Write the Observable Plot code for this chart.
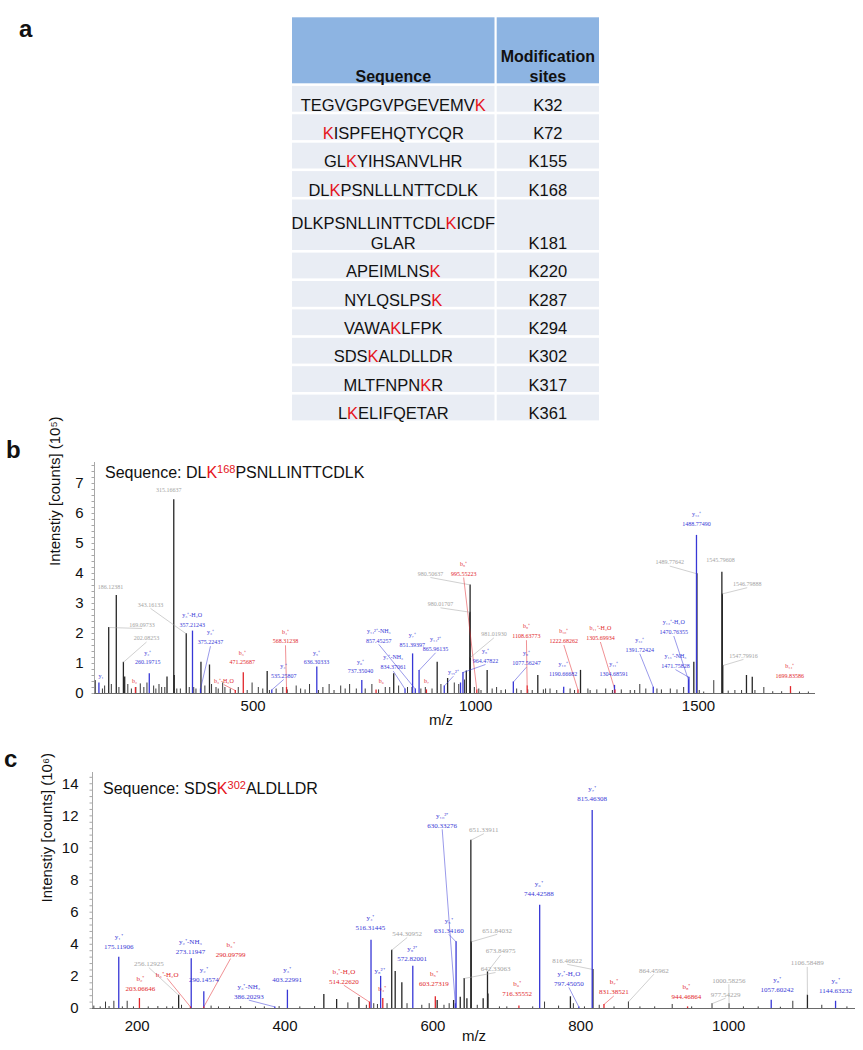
<!DOCTYPE html>
<html><head><meta charset="utf-8">
<script src="https://cdn.jsdelivr.net/npm/d3@7"></script>
<script src="https://cdn.jsdelivr.net/npm/@observablehq/plot@0.6"></script>
<style>
body{margin:0;background:#fff;font-family:"Liberation Sans",Arial,sans-serif;}
#root{position:relative;width:863px;height:1050px;overflow:hidden;background:#fff;}
.seq{position:absolute;font-size:16px;line-height:16px;white-space:nowrap;color:#111;z-index:5;}
.plotbox{position:absolute;left:0;}
</style></head><body><div id="root"></div>
<script>
// ---------- Panel a: table ----------
const tableHeader = ["Sequence", "Modification\nsites"];
const seqs = ["TEGVGPGVPGEVEMVK","KISPFEHQTYCQR","GLKYIHSANVLHR","DLKPSNLLLNTTCDLK","DLKPSNLLINTTCDLKICDF\nGLAR","APEIMLNSK","NYLQSLPSK","VAWAKLFPK","SDSKALDLLDR","MLTFNPNKR","LKELIFQETAR"];
const modIdx = [15,0,2,2,15,8,8,4,3,7,1];
const sites = ["K32","K72","K155","K168","K181","K220","K287","K294","K302","K317","K361"];

// ---------- Panel b: DLK(168)PSNLLINTTCDLK ----------
const seqB = "DLKPSNLLINTTCDLK", seqBMod = 2, seqBSite = "168";
const bTicksX = [500,1000,1500];
const bTicksY = [0,1,2,3,4,5,6,7];
const bOther = [[139,0.43],[155,0.15],[160,0.25],[169.10,2.2],[175,0.3],[186.12,3.27],[192,0.2],[202.08,1.04],[205,0.55],[212,0.3],[220,0.15],[230,0.2],[240,0.32],[248,0.2],[255,0.35],[270,0.25],[275,0.15],[282,0.3],[288,0.2],[295,0.2],[300,0.55],[315.17,6.46],[316.17,0.6],[322,0.15],[330,0.15],[343.16,1.99],[350,0.2],[360,0.2],[365,0.15],[376.22,1.04],[385,0.25],[395.4,0.95],[400,0.3],[410,0.2],[415,0.15],[425,0.35],[430,0.2],[442,0.15],[460,0.2],[480,0.1],[491,0.35],[505,0.2],[515,0.15],[524.9,0.73],[530,0.1],[545,0.15],[560,0.2],[570,0.12],[590,0.25],[600,0.15],[610,0.12],[620,0.3],[640,0.1],[650,0.2],[664,0.3],[675,0.1],[690,0.25],[700,0.15],[710,0.3],[725,0.15],[745,0.15],[760,0.3],[775,0.12],[790,0.2],[800,0.2],[809,0.66],[820,0.25],[840,0.2],[850,0.2],[870,0.15],[880,0.2],[895,0.15],[906.6,1.04],[915,0.3],[930,0.5],[945,0.35],[955,0.3],[968,0.45],[972,0.75],[980.02,2.71],[980.51,3.62],[981.02,1.2],[990,0.2],[1000,0.15],[1005,0.1],[1018.8,0.77],[1030,0.15],[1040,0.2],[1050,0.1],[1060,0.12],[1085,0.15],[1095,0.1],[1110,0.12],[1120,0.1],[1132.5,0.6],[1145,0.12],[1150,0.15],[1160,0.15],[1175,0.1],[1190,0.1],[1205,0.15],[1215,0.1],[1228.4,0.77],[1245,0.15],[1250,0.1],[1265,0.12],[1285,0.15],[1300,0.1],[1320,0.12],[1340,0.1],[1350,0.1],[1361.5,0.3],[1375,0.15],[1400,0.15],[1410,0.12],[1430,0.15],[1445,0.12],[1460,0.2],[1482.8,1.04],[1489.78,3.99],[1495,0.1],[1505,0.05],[1527.6,0.43],[1545.80,4.04],[1546.80,3.32],[1547.80,0.93],[1560,0.08],[1575,0.1],[1590,0.1],[1601,0.6],[1614,0.54],[1620,0.1],[1640,0.2],[1660,0.06],[1680,0.06],[1700,0.05],[1720,0.05],[1740,0.05]];
const bYions = [[147.11,0.35],[260.20,0.66],[357.21,2.08],[375.22,0.15],[535.26,0.12],[636.30,0.88],[737.35,0.43],[834.37,0.15],[851.39,1.32],[857.45,0.15],[865.96,0.77],[922.5,0.25],[959,0.35],[964.48,0.7],[1077.56,0.38],[1190.65,0.21],[1304.69,0.27],[1391.72,0.21],[1470.76,0.45],[1471.76,0.54],[1488.77,5.27]];
const bBions = [[229.12,0.2],[453.24,0.1],[471.26,0.69],[568.31,0.2],[769.38,0.12],[882.47,0.12],[995.55,0.12],[1108.64,0.25],[1222.68,0.12],[1305.70,0.12],[1699.84,0.23]];
const bLabels = [
 {n:"y₁",v:"",x:152,y:0.6},
 {n:"",v:"186.12381",x:173,y:3.55},
 {n:"",v:"169.09733",x:244,y:2.3,to:[169.10,2.2]},
 {n:"",v:"202.08253",x:254,y:1.85,to:[202.08,1.04]},
 {n:"b₂",v:"",x:227,y:0.43},
 {n:"y₂⁺",v:"260.19715",x:257,y:1.04},
 {n:"",v:"315.16637",x:304,y:6.8},
 {n:"",v:"343.16133",x:263,y:2.97,to:[343.16,1.99]},
 {n:"y₃⁺-H₂O",v:"357.21243",x:356.5,y:2.3},
 {n:"y₃⁺",v:"375.22437",x:397.6,y:1.71,to:[375.22,0.15]},
 {n:"b₃⁺-H₂O",v:"",x:427.5,y:0.43,to:[453.24,0.1]},
 {n:"b₃⁺",v:"471.25687",x:468.8,y:1.04},
 {n:"b₄⁺",v:"568.31238",x:566,y:1.74,to:[568.31,0.2]},
 {n:"y₄⁺",v:"535.25807",x:562,y:0.6,to:[535.26,0.12]},
 {n:"y₅⁺",v:"636.30333",x:635.6,y:1.04},
 {n:"y₆⁺",v:"737.35040",x:734.4,y:0.74},
 {n:"b₆",v:"",x:781,y:0.43},
 {n:"y₁₄²⁺-NH₃",v:"857.45257",x:775.5,y:1.77,to:[857.45,0.15]},
 {n:"y₇⁺-NH₃",v:"834.37061",x:808,y:0.88,to:[834.37,0.15]},
 {n:"y₇⁺",v:"851.39397",x:850.5,y:1.63},
 {n:"y₁₄²⁺",v:"865.96135",x:903,y:1.49,to:[865.96,0.77]},
 {n:"b₇",v:"",x:882.6,y:0.43},
 {n:"y₁₅²⁺",v:"",x:943,y:0.71,to:[922.5,0.25]},
 {n:"",v:"980.50637",x:891.5,y:4.0,to:[980.51,3.62]},
 {n:"b₈⁺",v:"995.55223",x:966,y:4.0,to:[995.55,0.12]},
 {n:"",v:"980.01707",x:914,y:2.99,to:[980.02,2.71]},
 {n:"",v:"981.01930",x:1034,y:1.99,to:[981.02,1.2]},
 {n:"y₈⁺",v:"964.47822",x:1015,y:1.1,to:[964.48,0.7]},
 {n:"y₉⁺",v:"1077.56247",x:1107,y:1.01,to:[1077.56,0.38]},
 {n:"b₉⁺",v:"1108.63773",x:1107,y:1.91,to:[1108.64,0.25]},
 {n:"y₁₀⁺",v:"1190.66682",x:1189.5,y:0.66},
 {n:"b₁₀⁺",v:"1222.68262",x:1191,y:1.75,to:[1222.68,0.12]},
 {n:"b₁₁⁺-H₂O",v:"1305.69934",x:1273,y:1.85,to:[1305.70,0.12]},
 {n:"y₁₁⁺",v:"1304.68591",x:1303,y:0.66},
 {n:"y₁₂⁺",v:"1391.72424",x:1361.5,y:1.46,to:[1391.72,0.21]},
 {n:"y₁₃⁺-H₂O",v:"1470.76355",x:1437.8,y:2.05,to:[1470.76,0.45]},
 {n:"y₁₃⁺-NH₃",v:"1471.75828",x:1441.6,y:0.93,to:[1471.76,0.54]},
 {n:"y₁₃⁺",v:"1488.77490",x:1488.8,y:5.66},
 {n:"",v:"1489.77642",x:1428.8,y:4.38,to:[1489.78,3.99]},
 {n:"",v:"1545.79608",x:1542.7,y:4.44},
 {n:"",v:"1546.79888",x:1602.6,y:3.66,to:[1546.80,3.32]},
 {n:"",v:"1547.79916",x:1594.3,y:1.27,to:[1547.80,0.93]},
 {n:"b₁₄⁺",v:"1699.83586",x:1698.2,y:0.6}
];

// ---------- Panel c: SDSK(302)ALDLLDR ----------
const seqC = "SDSKALDLLDR", seqCMod = 3, seqCSite = "302";
const cTicksX = [200,400,600,800,1000];
const cTicksY = [0,2,4,6,8,10,12,14];
const cOther = [[141.4,0.15],[150,0.1],[157.2,0.4],[162,0.12],[168.5,0.45],[180,0.1],[186.5,0.45],[195,0.1],[215,0.1],[228,0.12],[240,0.1],[248,0.1],[256.13,0.83],[260,0.2],[300,0.15],[310,0.1],[325,0.1],[340,0.12],[360,0.1],[372,0.1],[392,0.12],[420,0.1],[440,0.12],[452.5,0.87],[469.8,0.56],[485,0.35],[500,0.68],[510,0.2],[520,0.3],[525,0.25],[538,0.3],[544.31,3.63],[549,2.3],[558,1.6],[565,0.3],[585,0.2],[595,0.3],[605.8,0.5],[615,0.2],[622,0.3],[628,0.5],[637,0.7],[642.33,1.87],[646,0.6],[651.34,10.48],[651.84,4.15],[660,0.2],[668,0.6],[673.85,2.28],[674.5,0.9],[690,0.1],[700,0.1],[735,0.1],[751,0.4],[770,0.15],[786,0.73],[790,0.3],[805,0.1],[816.47,2.43],[825,0.2],[845,0.1],[864.46,0.41],[880,0.1],[900,0.1],[923.7,0.25],[950,0.1],[977.54,0.3],[1000.58,0.3],[1020,0.1],[1040,0.1],[1070,0.08],[1086.8,0.45],[1106.58,0.83],[1126,0.2],[1160,0.1]];
const cYions = [[175.12,3.2],[273.12,3.1],[290.15,1.04],[386.20,0.1],[403.23,1.14],[516.31,4.25],[529.3,2.0],[572.82,2.63],[630.33,0.3],[631.34,4.15],[744.43,6.43],[797.45,0.1],[815.46,12.34],[1057.60,0.52],[1144.63,0.45]];
const cBions = [[203.07,0.62],[272.09,0.1],[290.10,0.1],[514.23,0.4],[532.23,0.62],[603.27,0.73],[716.36,0.15],[831.39,0.25],[944.47,0.1]];
const cLabels = [
 {n:"y₁⁺",v:"175.11906",x:175.2,y:3.83},
 {n:"b₂⁺",v:"203.06646",x:204.5,y:1.24},
 {n:"",v:"256.12925",x:215.8,y:2.8,to:[256.13,0.83]},
 {n:"b₃⁺-H₂O",v:"",x:240.6,y:2.13,to:[272.09,0.1]},
 {n:"y₂⁺-NH₃",v:"273.11947",x:272.1,y:3.52},
 {n:"y₂⁺",v:"290.14574",x:290.1,y:1.8},
 {n:"b₃⁺",v:"290.09799",x:326.3,y:3.36,to:[290.10,0.1]},
 {n:"y₃⁺-NH₃",v:"386.20293",x:351,y:0.77,to:[386.20,0.1]},
 {n:"y₃⁺",v:"403.22991",x:402.9,y:1.82},
 {n:"b₄⁺-H₂O",v:"514.22620",x:479.5,y:1.7,to:[514.23,0.4]},
 {n:"y₄⁺",v:"516.31445",x:515.6,y:5.04},
 {n:"y₈²⁺",v:"",x:527.8,y:2.38},
 {n:"b₄⁺",v:"",x:531.4,y:1.24},
 {n:"",v:"544.30952",x:565.2,y:4.67,to:[544.31,3.63]},
 {n:"y₉²⁺",v:"572.82001",x:572,y:3.11},
 {n:"b₅⁺",v:"603.27319",x:601.3,y:1.56},
 {n:"y₁₀²⁺",v:"630.33276",x:612.6,y:11.41,to:[630.33,0.3]},
 {n:"y₅⁺",v:"631.34160",x:621.5,y:4.87,to:[631.34,4.15]},
 {n:"",v:"642.33063",x:684.7,y:2.49,to:[642.33,1.87]},
 {n:"",v:"651.33911",x:668.9,y:11.14,to:[651.34,10.48]},
 {n:"",v:"651.84032",x:687,y:4.87,to:[651.84,4.15]},
 {n:"",v:"673.84975",x:691.5,y:3.58,to:[673.85,2.28]},
 {n:"b₆⁺",v:"716.35552",x:714,y:0.93},
 {n:"y₆⁺",v:"744.42588",x:743.3,y:7.16},
 {n:"y₇⁺-H₂O",v:"797.45050",x:783.9,y:1.56,to:[797.45,0.1]},
 {n:"",v:"816.46622",x:781.7,y:3.0,to:[816.47,2.43]},
 {n:"y₇⁺",v:"815.46308",x:815.5,y:13.07},
 {n:"b₇⁺",v:"831.38521",x:844.7,y:1.03,to:[831.39,0.25]},
 {n:"",v:"864.45962",x:898.8,y:2.38,to:[864.46,0.41]},
 {n:"b₈⁺",v:"944.46864",x:943,y:0.77},
 {n:"",v:"977.54229",x:995.8,y:0.89,to:[977.54,0.3]},
 {n:"",v:"1000.58256",x:1000.3,y:1.76,to:[1000.58,0.3]},
 {n:"y₈⁺",v:"1057.60242",x:1065.7,y:1.2},
 {n:"",v:"1106.58489",x:1106.3,y:2.84,to:[1106.58,0.83]},
 {n:"y₉⁺",v:"1144.63232",x:1144.6,y:1.14}
];

// ---------- styling ----------
const RED_K = "#e5141c", HEAD = "#8db4e2", BODY = "#e9edf4";
const BLUE = "#3737d6", RED = "#e2262b", GRAY = "#a3a3a3", BLACK = "#262626";
const colorOf = d => d.n ? (d.n[0] === "y" ? BLUE : RED) : GRAY;
const SANS = "Liberation Sans, Arial, sans-serif";
const SERIF = "Liberation Serif, Times New Roman, serif";

const root = d3.select("#root");

// ---------- draw table ----------
const svgA = root.append("svg").attr("width", 863).attr("height", 440)
  .style("position", "absolute").style("left", "0px").style("top", "0px")
  .attr("font-family", SANS);
const colX = [292, 496.7], colW = [202.5, 102.3];
const headTop = 17.3, headH = 66, rowH = 25.8, gap = 2.6, tallH = 50.5, lineStep = 19.6;
tableHeader.forEach((h, c) => {
  svgA.append("rect").attr("x", colX[c]).attr("y", headTop).attr("width", colW[c]).attr("height", headH).attr("fill", HEAD);
  const lines = h.split("\n");
  lines.forEach((ln, j) => {
    svgA.append("text").attr("x", colX[c] + colW[c] / 2)
      .attr("y", headTop + headH - 1.5 - (lines.length - 1 - j) * lineStep)
      .attr("text-anchor", "middle").attr("font-size", 16).attr("font-weight", "bold").attr("fill", "#111").text(ln);
  });
});
let yy = headTop + headH + gap;
seqs.forEach((s, i) => {
  const lines = s.split("\n");
  const h = lines.length > 1 ? tallH : rowH;
  [0, 1].forEach(c => svgA.append("rect").attr("x", colX[c]).attr("y", yy).attr("width", colW[c]).attr("height", h).attr("fill", BODY));
  const bottom = yy + h;
  let start = 0;
  lines.forEach((ln, j) => {
    const t = svgA.append("text").attr("x", colX[0] + colW[0] / 2)
      .attr("y", bottom - 1.2 - (lines.length - 1 - j) * lineStep)
      .attr("text-anchor", "middle").attr("font-size", 16.5).attr("fill", "#111");
    const rel = modIdx[i] - start;
    if (rel >= 0 && rel < ln.length) {
      t.append("tspan").text(ln.slice(0, rel));
      t.append("tspan").attr("fill", RED_K).text(ln[rel]);
      t.append("tspan").text(ln.slice(rel + 1));
    } else t.text(ln);
    start += ln.length;
  });
  svgA.append("text").attr("x", colX[1] + colW[1] / 2).attr("y", bottom - 1.2)
    .attr("text-anchor", "middle").attr("font-size", 16.5).attr("fill", "#111").text(sites[i]);
  yy += h + gap;
});

// ---------- spectrum panels ----------
function spectrum(cfg) {
  const ppu = (cfg.height - cfg.marginTop - cfg.marginBottom) / cfg.yMax;
  const lab = cfg.labels;
  const rule = (data, color, w) => Plot.ruleX(data, {x: d => d[0], y1: 0, y2: d => d[1], stroke: color, strokeWidth: w});
  return Plot.plot({
    width: 863, height: cfg.height,
    marginLeft: cfg.marginLeft, marginRight: cfg.marginRight, marginTop: cfg.marginTop, marginBottom: cfg.marginBottom,
    x: {domain: cfg.xDomain}, y: {domain: [0, cfg.yMax]},
    color: {type: "identity"},
    style: {fontFamily: SANS, fontSize: "15px", background: "transparent", overflow: "visible", color: "#111"},
    marks: [
      Plot.ruleX([cfg.xDomain[0]], {stroke: "#a8a8a8", strokeWidth: 1}),
      Plot.axisY(d3.range(0, cfg.yMax, cfg.minor), {tickSize: 2.5, tickFormat: () => "", stroke: "#a8a8a8", label: null}),
      Plot.axisY(cfg.yTicks, {tickSize: 0, tickPadding: cfg.tickPad, label: null, fontSize: 15, tickFormat: d => String(d)}),
      Plot.axisX(cfg.xTicks, {tickSize: 0, tickPadding: cfg.xPad, label: null, fontSize: 15, dx: cfg.tickDx, tickFormat: d => String(d)}),
      Plot.text([cfg.yTitle], {frameAnchor: "left", text: d => d, rotate: -90, dx: cfg.titleDx, dy: cfg.titleDy, fontSize: 15}),
      Plot.text(["m/z"], {frameAnchor: "bottom", text: d => d, dy: cfg.mzDy, dx: cfg.mzDx, fontSize: 15}),
      Plot.ruleY([0], {stroke: "#6a6a6a", strokeWidth: 1}),
      rule(cfg.other.filter(d => d[1] < 0.5), "#3a3a3a", 1),
      rule(cfg.other.filter(d => d[1] >= 0.5), BLACK, 1.3),
      Plot.link(lab.filter(d => d.to), {x1: "x", y1: d => d.y - 4 / ppu, x2: d => d.to[0], y2: d => d.to[1], stroke: colorOf, strokeWidth: 0.6, strokeOpacity: 0.85}),
      rule(cfg.yIons, BLUE, 1.3),
      rule(cfg.bIons, RED, 1.3),
      Plot.text(lab, {x: "x", y: "y", text: d => (d.n && d.v) ? d.n + "\n" + d.v : (d.n || d.v), fill: colorOf,
        fontSize: cfg.labelSize, fontFamily: SERIF, lineHeight: cfg.lineHeight, lineAnchor: "bottom", dy: cfg.labelSize * 0.35})
    ]
  });
}

function addPlot(node, top) {
  const box = root.append("div").attr("class", "plotbox").style("top", top + "px");
  box.node().appendChild(node);
}

addPlot(spectrum({
  height: 300, marginLeft: 94, marginRight: 48, marginTop: 22, marginBottom: 47,
  xDomain: [137.2, 1756], yMax: 7.7, minor: 0.2, yTicks: bTicksY, xTicks: bTicksX, tickPad: 11, tickDx: -3, xPad: 7,
  yTitle: "Intenstiy [counts] (10⁵)", titleDx: -39, titleDy: -12, mzDx: -14, mzDy: 31,
  other: bOther, yIons: bYions, bIons: bBions, labels: bLabels, labelSize: 6, lineHeight: 1.65
}), 440);

addPlot(spectrum({
  height: 295, marginLeft: 92, marginRight: 8, marginTop: 17, marginBottom: 42,
  xDomain: [139.6, 1171.6], yMax: 14.7, minor: 0.4, yTicks: cTicksY, xTicks: cTicksX, tickPad: 14, tickDx: 0, xPad: 12,
  yTitle: "Intenstiy [counts] (10⁶)", titleDx: -45, titleDy: 12, mzDx: 0, mzDy: 32,
  other: cOther, yIons: cYions, bIons: cBions, labels: cLabels, labelSize: 7, lineHeight: 1.43
}), 755);

// ---------- sequence captions ----------
function seqCaption(seq, mod, site, left, top) {
  const d = root.append("div").attr("class", "seq").style("left", left + "px").style("top", top + "px");
  d.append("span").text("Sequence: " + seq.slice(0, mod));
  const k = d.append("span").style("color", RED_K);
  k.append("span").text(seq[mod]);
  k.append("span").style("font-size", "11px").style("position", "relative").style("top", "-5px").text(site);
  d.append("span").text(seq.slice(mod + 1));
}
seqCaption(seqB, seqBMod, seqBSite, 105, 465);
seqCaption(seqC, seqCMod, seqCSite, 103, 780.5);

// ---------- panel letters ----------
const svgL = root.append("svg").attr("width", 863).attr("height", 1050)
  .style("position", "absolute").style("left", "0px").style("top", "0px").style("pointer-events", "none").style("z-index", 10);
[["a", 19, 37], ["b", 6, 458], ["c", 4, 767]].forEach(([t, x, y]) =>
  svgL.append("text").attr("x", x).attr("y", y).attr("font-family", SANS).attr("font-weight", "bold").attr("font-size", 24).attr("fill", "#111").text(t));
</script></body></html>
